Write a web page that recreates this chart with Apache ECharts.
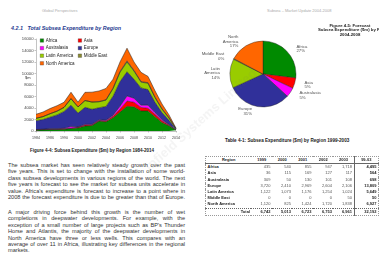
<!DOCTYPE html>
<html>
<head>
<meta charset="utf-8">
<script src="https://cdn.jsdelivr.net/npm/echarts@6/dist/echarts.min.js"></script>
<style>
html, body { margin: 0; padding: 0; background: #fff; }
body { width: 379px; height: 270px; overflow: hidden; position: relative;
  font-family: 'Liberation Sans', Arial, sans-serif; color: #222; -webkit-text-size-adjust: none; }
.abs { position: absolute; white-space: nowrap; }
.head { font-size: 4px; color: #aaa; top: 8px; }
.sect { left: 11px; top: 25px; font-size: 5.4px; font-weight: bold; font-style: italic; color: #1f3a8f; }
.cap { font-size: 4.5px; font-weight: bold; color: #222; }
.para { position: absolute; left: 8px; width: 177px; font-size: 5.6px; color: #333; }
.para div { height: 6.45px; line-height: 6.45px; white-space: nowrap; text-align: justify; text-align-last: justify; }
.para div.last { text-align-last: left; }
#area { position: absolute; left: 0; top: 30px; width: 190px; height: 115px; }
#pie { position: absolute; left: 190px; top: 15px; width: 150px; height: 115px; }
#tbl { position: absolute; left: 205px; top: 156px; border-collapse: collapse; font-size: 4px;
  table-layout: fixed; border: 0.5px dotted #999; }
#tbl td, #tbl th { height: 6.2px; padding: 0 1.5px; line-height: 6.2px; white-space: nowrap; overflow: hidden; }
#tbl th { font-weight: bold; text-align: center; border-bottom: 0.6px solid #666; }
#tbl td.r { font-weight: bold; text-align: left; }
#tbl td.n { text-align: right; color: #555; }
#tbl td.b { text-align: right; font-weight: bold; color: #222; border-left: 0.6px solid #666; }
#tbl th.b { border-left: 0.6px solid #666; }
#tbl tr.tot td { border-top: 0.5px dotted #666; font-weight: bold; color: #222; }
#tbl tr.tot td.r { text-align: right; }
.wm { position: absolute; left: 128px; top: 112px; font-size: 13px; color: rgba(110,110,110,0.08);
  transform: rotate(-42deg); transform-origin: center; white-space: nowrap; font-weight: bold; }
</style>
</head>
<body>
<div class="abs head" style="left:42px">Global Perspectives</div>
<div class="abs head" style="left:267px">Subsea &ndash; Market Update 2004-2008</div>
<div class="abs sect">4.2.1&nbsp;&nbsp;&nbsp;Total Subsea Expenditure by Region</div>
<div id="area"></div>
<div class="abs cap" style="left:30px;top:148px">Figure 4-4: Subsea Expenditure ($m) by Region 1984-2014</div>
<div class="para" id="p1" style="top:161.8px"></div>
<div class="para" id="p2" style="top:208.8px"></div>
<div id="pie"></div>
<div class="abs cap" style="left:318px;top:24px;width:64px;text-align:center;line-height:4.3px;font-size:4.3px">Figure 4-5: Forecast<br>Subsea Expenditure ($m) by Region<br>2004-2008</div>
<div class="abs cap" style="left:225px;top:138px;font-size:4.6px">Table 4-1: Subsea Expenditure ($m) by Region 1999-2003</div>
<table id="tbl"></table>
<div class="wm">Infield Systems Limited</div>
<script>
// chart categories (early years sparse, yearly from 1999)
var years = ['1984', '1985', '1986', '1988', '1990', '1999', '2000', '2001', '2002', '2003',
  '2004', '2005', '2006', '2007', '2008', '2009', '2010', '2011', '2012', '2013', '2014'];

var regions = ['Africa', 'Asia', 'Australasia', 'Europe', 'Latin America', 'Middle East', 'North America'];
var colors = ['#008a00', '#ff0000', '#ff00ff', '#30309a', '#99cc00', '#8a8a30', '#ff6600'];

// $m per region, stacked bottom to top
var africa = [150, 200, 250, 250, 300, 435, 540, 855, 947, 1718, 1600, 2300, 3300, 4300, 4200, 3500, 3500, 2500, 1500, 900, 150];
var asia = [50, 50, 60, 60, 70, 36, 115, 169, 127, 117, 150, 250, 500, 900, 800, 600, 450, 400, 300, 150, 30];
var australasia = [50, 60, 80, 90, 100, 309, 50, 130, 101, 108, 130, 200, 500, 900, 700, 400, 550, 300, 200, 100, 20];
var europe = [1550, 1690, 2010, 2400, 2930, 3720, 2410, 2969, 2604, 2106, 2400, 3300, 4300, 4200, 3300, 3000, 2700, 1800, 1200, 700, 120];
var latinAmerica = [400, 500, 600, 650, 700, 1122, 1073, 1176, 1254, 1024, 1100, 1300, 1600, 1700, 1400, 1000, 1100, 800, 600, 400, 80];
var middleEast = [0, 0, 0, 0, 0, 0, 0, 0, 0, 50, 50, 100, 150, 200, 150, 100, 100, 100, 50, 50, 0];
var northAmerica = [700, 800, 900, 950, 900, 1120, 825, 1424, 1720, 1838, 1970, 1550, 1650, 2200, 1450, 1600, 1100, 1100, 850, 500, 100];
var regionData = [africa, asia, australasia, europe, latinAmerica, middleEast, northAmerica];

// forecast 2004-2008 totals for the pie
var pieValues = [15000, 2900, 2600, 17500, 7900, 200, 9600];

// table 4-1 (1999-2003)
var tableYears = ['1999', '2000', '2001', '2002', '2003'];
var tableFirst = 5; // index of 1999 in years

var yTicks = { min: 0, max: 16000, interval: 2000 };

// body text, one entry per printed line
var para1 = [
  "The subsea market has seen relatively steady growth over the past",
  "five years. This is set to change with the installation of some world-",
  "class subsea developments in various regions of the world. The next",
  "five years is forecast to see the market for subsea units accelerate in",
  "value. Africa's expenditure is forecast to increase to a point where in",
  "2008 the forecast expenditure is due to be greater than that of Europe."
];
var para2 = [
  "A major driving force behind this growth is the number of wet",
  "completions in deepwater developments. For example, with the",
  "exception of a small number of large projects such as BP's Thunder",
  "Horse and Atlantis, the majority of the deepwater developments in",
  "North America have three or less wells. This compares with an",
  "average of over 11 in Africa, illustrating key differences in the regional",
  "markets."
];

function fillPara(id, lines, lastLeft) {
  var el = document.getElementById(id);
  lines.forEach(function (t, i) {
    var d = document.createElement('div');
    d.textContent = t;
    if (lastLeft && i === lines.length - 1) d.className = 'last';
    el.appendChild(d);
  });
}
fillPara('p1', para1, false);
fillPara('p2', para2, true);

var FONT = 'Liberation Sans, Arial, sans-serif';

// area chart
var area = echarts.init(document.getElementById('area'));
var legendCommon = {
  orient: 'vertical', top: 8, padding: 0, itemGap: 2.6, icon: 'rect',
  itemWidth: 3.5, itemHeight: 3.5, selectedMode: false,
  itemStyle: { borderColor: '#333', borderWidth: 0.3 },
  textStyle: { fontSize: 4.5, color: '#222', fontFamily: FONT, padding: [0, 0, 0, -3] }
};
area.setOption({
  animation: false,
  textStyle: { fontFamily: FONT },
  grid: { left: 36, right: 14, top: 9, bottom: 14 },
  legend: [
    Object.assign({ left: 40, data: ['Africa', 'Australasia', 'Latin America', 'North America'] }, legendCommon),
    Object.assign({ left: 78, data: ['Asia', 'Europe', 'Middle East'] }, legendCommon)
  ],
  xAxis: {
    type: 'category', data: years, boundaryGap: false,
    axisLine: { lineStyle: { color: '#888', width: 0.5 } },
    axisTick: { interval: 1, length: 1.5, lineStyle: { color: '#888', width: 0.5 } },
    axisLabel: { interval: 1, fontSize: 3.6, color: '#444', margin: 4.5, fontFamily: FONT }
  },
  yAxis: {
    type: 'value', min: yTicks.min, max: yTicks.max, interval: yTicks.interval,
    splitLine: { show: false },
    axisLine: { show: true, lineStyle: { color: '#888', width: 0.5 } },
    axisTick: { show: true, length: 1.5, lineStyle: { color: '#888', width: 0.5 } },
    axisLabel: { fontSize: 4.2, color: '#444', margin: 2.5, fontFamily: FONT,
      formatter: function (v) { return String(v); } }
  },
  graphic: [{ type: 'text', left: 25, top: 46, style: { text: '$m', fontSize: 4, fill: '#333', fontFamily: FONT } }],
  series: regions.map(function (name, i) {
    return {
      name: name, type: 'line', stack: 'total', data: regionData[i],
      symbol: 'none', silent: true,
      itemStyle: { color: colors[i] },
      lineStyle: { color: '#1a1a1a', width: 0.5 },
      areaStyle: { color: colors[i], opacity: 1 }
    };
  })
});

// pie chart
var pie = echarts.init(document.getElementById('pie'));
pie.setOption({
  animation: false,
  series: [{
    type: 'pie', center: [73, 59], radius: 33, startAngle: 90, clockwise: true,
    avoidLabelOverlap: false, silent: true,
    itemStyle: { borderColor: '#222', borderWidth: 0.4 },
    label: {
      show: true, position: 'outside', fontSize: 4.3, lineHeight: 4.6, color: '#555', fontFamily: FONT,
      formatter: function (p) {
        var n = p.name.replace('North America', 'North\nAmerica').replace('Latin America', 'Latin\nAmerica');
        return n + '\n' + Math.round(p.percent) + '%';
      }
    },
    labelLine: { show: false, length: 5, length2: 0 },
    data: regions.map(function (name, i) {
      return { name: name, value: pieValues[i], itemStyle: { color: colors[i] } };
    })
  }]
});

// table
function fmt(v) { return v.toLocaleString('en-US'); }
var colW = [47, 21, 21, 21, 21, 21, 25];
var html = '<colgroup>' + colW.map(function (w) { return '<col style="width:' + w + 'px">'; }).join('') + '</colgroup>';
html += '<tr><th>Region</th>' + tableYears.map(function (y) { return '<th>' + y + '</th>'; }).join('') + '<th class="b">99-03</th></tr>';
var colTot = tableYears.map(function () { return 0; });
regions.forEach(function (name, i) {
  var vals = regionData[i].slice(tableFirst, tableFirst + tableYears.length);
  var sum = 0;
  html += '<tr><td class="r">' + name + '</td>';
  vals.forEach(function (v, j) { sum += v; colTot[j] += v; html += '<td class="n">' + fmt(v) + '</td>'; });
  html += '<td class="b">' + fmt(sum) + '</td></tr>';
});
var grand = colTot.reduce(function (a, b) { return a + b; }, 0);
html += '<tr class="tot"><td class="r">Total</td>' + colTot.map(function (v) { return '<td class="n">' + fmt(v) + '</td>'; }).join('') + '<td class="b">' + fmt(grand) + '</td></tr>';
document.getElementById('tbl').innerHTML = html;
</script>
</body>
</html>
